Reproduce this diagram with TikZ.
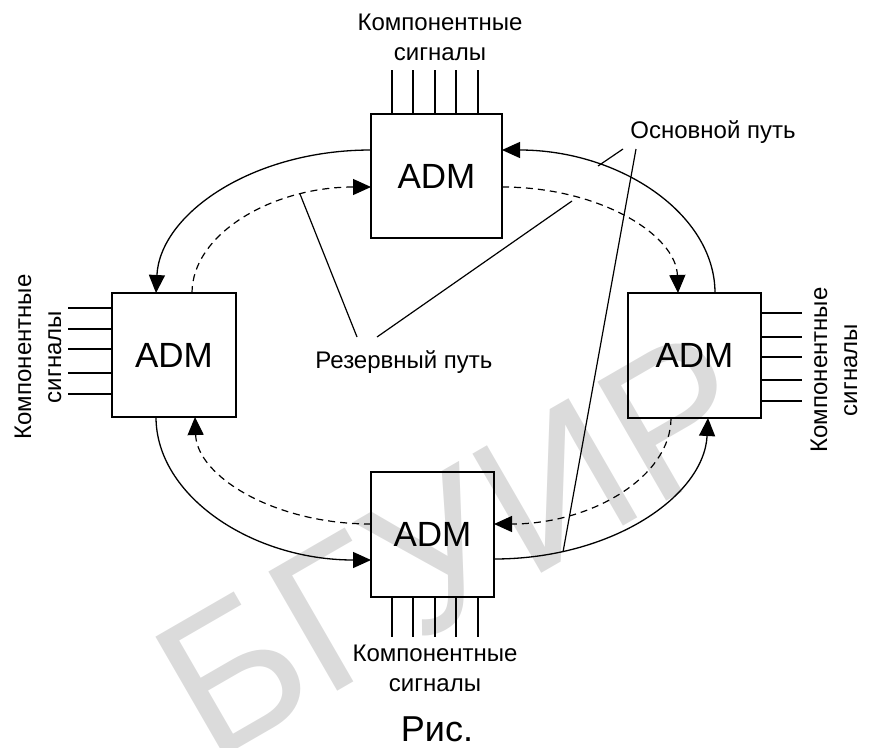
\documentclass[tikz,border=0pt]{standalone}
\usepackage{fontspec}
\setmainfont{Liberation Sans}
\usetikzlibrary{arrows.meta,calc}
\begin{document}
\begin{tikzpicture}[x=1pt,y=-1pt,
  box/.style={draw,line width=1.3pt,inner sep=0pt,outer sep=0pt,font=\fontsize{35}{40}\selectfont},
  lbl/.style={font=\fontsize{24}{30}\selectfont,align=center,inner sep=0pt},
  ln/.style={line width=1.3pt},
  thin/.style={line width=1.2pt},
  tip/.style={-{Triangle[length=18pt,width=16pt]}},
  arr/.style={line width=1.3pt,tip},
  dsh/.style={line width=1.2pt,dash pattern=on 7pt off 5pt,tip},
  wm/.style={text=black!14,font=\fontsize{200}{200}\selectfont,inner sep=0pt},
]
\useasboundingbox (0,0) rectangle (869,747);
% watermark
\node[wm,rotate=30] (wmk) at (455,545) {БГУИР};
% boxes
\node[box,minimum width=131pt,minimum height=124pt] (T) at (436.5,176) {ADM};
\node[box,minimum width=124pt,minimum height=124pt] (L) at (174,355) {ADM};
\node[box,minimum width=133pt,minimum height=125pt] (R) at (694.5,355.5) {ADM};
\node[box,minimum width=123pt,minimum height=125pt] (B) at (432.5,534.5) {ADM};
% signal lines
\foreach \x in {392,413,435,456,478} {
  \draw[ln] (\x,70) -- (\x,114);
  \draw[ln] (\x,597) -- (\x,637);
}
\foreach \y in {308,329,349,373,394} \draw[ln] (68,\y) -- (112,\y);
\foreach \y in {313,337,357,380,401} \draw[ln] (761,\y) -- (802,\y);
% labels
\node[lbl] (lt) at (440,37) {Компонентные\\сигналы};
\node[lbl] (lb) at (435,668) {Компонентные\\сигналы};
\node[lbl,rotate=90] (ll) at (38,357) {Компонентные\\сигналы};
\node[lbl,rotate=90] (lr) at (834,370) {Компонентные\\сигналы};
\node[lbl] (osn) at (713,132) {Основной путь};
\node[lbl] (rez) at (404,362) {Резервный путь};
\node[inner sep=0pt,font=\fontsize{36}{40}\selectfont] (ris) at (437,729) {Рис.};
% endpoints
\coordinate (tl1) at ($(T.west)+(0,-26)$);
\coordinate (tl2) at ($(T.west)+(0,11)$);
\coordinate (tr1) at ($(T.east)+(0,-26)$);
\coordinate (tr2) at ($(T.east)+(0,11)$);
\coordinate (ln1) at ($(L.north)+(-18,0)$);
\coordinate (ln2) at ($(L.north)+(18,0)$);
\coordinate (ls1) at ($(L.south)+(-18,0)$);
\coordinate (ls2) at ($(L.south)+(21,0)$);
\coordinate (rn1) at ($(R.north)+(20.5,0)$);
\coordinate (rn2) at ($(R.north)+(-16.5,0)$);
\coordinate (rs1) at ($(R.south)+(13.5,0)$);
\coordinate (rs2) at ($(R.south)+(-23.5,0)$);
\coordinate (bl1) at ($(B.west)+(0,25.5)$);
\coordinate (bl2) at ($(B.west)+(0,-10.5)$);
\coordinate (br1) at ($(B.east)+(0,24.5)$);
\coordinate (br2) at ($(B.east)+(0,-10.5)$);
% main path (solid)
\draw[arr] (tl1) .. controls (252,150) and (160,214) .. (ln1);
\draw[arr] (rn1) .. controls (715,214) and (620,150) .. (tr1);
\draw[arr] (ls1) .. controls (156,496) and (252,560) .. (bl1);
\draw[arr] (br1) .. controls (612,559) and (704,496) .. (rs1);
% reserve path (dashed)
\draw[dsh] (ln2) .. controls (192,234) and (272,187) .. (tl2);
\draw[dsh] (tr2) .. controls (599,187) and (676,234.5) .. (rn2);
\draw[dsh] (bl2) .. controls (274,524) and (197,476) .. (ls2);
\draw[dsh] (rs2) .. controls (671,476.5) and (592,524) .. (br2);
% annotation lines
\coordinate (o1) at (623,149);
\coordinate (o2) at (636,149);
\coordinate (r1) at (357,337);
\coordinate (r2) at (377,337);
\draw[thin] (o1) -- (598,166);
\draw[thin] (o2) -- (563,552);
\draw[thin] (r1) -- (300,194);
\draw[thin] (r2) -- (572,201);
\end{tikzpicture}
\end{document}
